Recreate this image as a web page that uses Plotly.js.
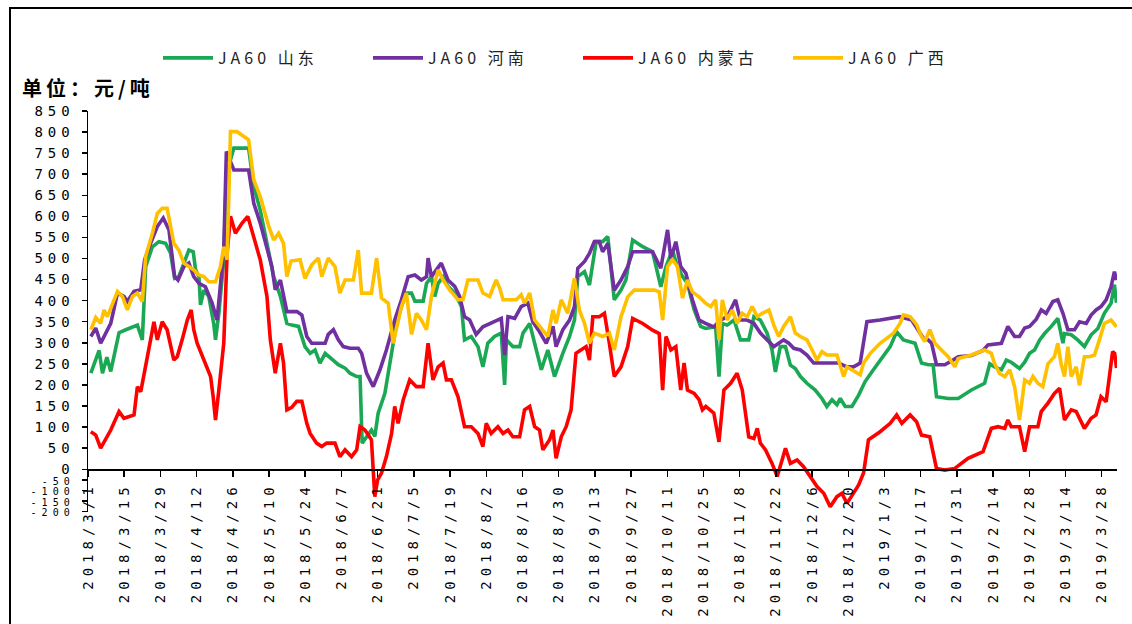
<!DOCTYPE html>
<html>
<head>
<meta charset="utf-8">
<script src="https://cdn.plot.ly/plotly-3.0.1.min.js"></script>
<style>
  html, body { margin:0; padding:0; background:#fff; }
  #wrap { position:relative; width:1132px; height:624px; overflow:hidden; }
  #chart { position:absolute; left:0; top:0; width:1132px; height:624px; }
  #frame { position:absolute; left:9px; top:7px; width:1121px; height:640px; border:2px solid #000; pointer-events:none; }
  .xtick text, .ytick text { letter-spacing: 5px; }
  .legendtext { letter-spacing: 4px; }
  .annotation-text { letter-spacing: 4px; }
</style>
</head>
<body>
<div id="wrap">
  <div id="chart"></div>
  <div id="frame"></div>
</div>
<script>
// Day offsets are counted from 2018-03-01.
const tickLabels = ["2018/3/1","2018/3/15","2018/3/29","2018/4/12","2018/4/26","2018/5/10","2018/5/24","2018/6/7","2018/6/21","2018/7/5","2018/7/19","2018/8/2","2018/8/16","2018/8/30","2018/9/13","2018/9/27","2018/10/11","2018/10/25","2018/11/8","2018/11/22","2018/12/6","2018/12/20","2019/1/3","2019/1/17","2019/1/31","2019/2/14","2019/2/28","2019/3/14","2019/3/28"];

// y-axis labels as printed on the picture (the negative labels sit closer together there)
const yTickVals = [850,800,750,700,650,600,550,500,450,400,350,300,250,200,150,100,50,0,-25,-50,-75,-100];
const yTickLabels = ["850","800","750","700","650","600","550","500","450","400","350","300","250","200","150","100","50","0","-50","-100","-150","-200"];

const seriesNames = ["JA60 山东","JA60 河南","JA60 内蒙古","JA60 广西"];
const seriesColors = ["#1BA855","#7030A0","#FF0000","#FFC000"];

const shandongDays = [1.1,4.3,5.6,7.3,8.8,12.0,14.6,16.5,19.1,21.0,22.3,24.9,27.4,30.0,31.9,33.5,35.1,37.1,39.0,40.7,41.6,42.9,43.5,44.8,46.7,48.6,49.3,50.6,52.5,53.5,56.4,62.1,64.1,66.6,69.2,71.8,74.4,76.9,78.8,81.4,83.9,85.9,87.8,89.7,91.7,94.2,96.8,99.4,101.3,103.9,105.2,106.0,107.7,109.6,110.9,112.2,114.8,117.4,119.3,121.2,123.1,125.1,126.4,129.6,130.9,132.8,134.1,135.4,137.3,139.2,141.8,144.4,145.6,148.2,150.8,152.7,154.6,157.2,159.8,161.1,161.8,164.3,166.9,168.2,170.8,172.7,175.3,177.8,180.4,183.6,186.2,188.1,189.4,192.0,193.9,196.5,199.0,201.0,203.5,206.1,208.0,210.6,214.5,218.3,221.5,223.5,226.0,227.9,229.9,231.8,234.4,236.9,238.8,242.7,244.0,245.3,247.2,249.8,252.3,255.5,257.5,260.0,262.6,264.5,265.8,267.7,269.7,271.6,273.5,275.5,278.0,281.2,283.8,285.7,287.7,289.6,290.9,292.8,295.4,298.0,300.5,303.7,307.0,310.2,312.7,315.3,319.8,322.3,324.9,326.8,328.1,332.6,336.5,341.6,346.7,348.7,350.6,353.2,355.1,357.0,360.2,362.2,364.1,366.0,368.0,369.9,372.5,375.0,377.0,377.6,380.2,382.7,385.3,387.9,390.5,393.0,395.6,396.9,397.7];
const shandongVals = [228,282,228,266,232,324,331,335,342,307,481,528,540,536,513,453,457,489,520,516,473,457,390,425,410,346,307,370,497,700,762,762,671,615,536,457,410,346,342,339,291,275,283,252,275,263,248,240,228,220,220,62,78,93,78,133,180,275,346,386,418,418,399,399,441,457,410,441,457,434,418,386,307,315,291,243,299,315,323,200,307,291,291,323,346,299,236,283,220,275,315,354,457,469,437,540,540,552,402,425,449,544,528,516,433,481,520,481,457,441,378,339,334,338,220,346,342,354,307,307,362,354,323,283,231,291,291,247,239,220,204,188,168,149,165,153,168,149,149,176,208,236,263,291,326,307,299,252,248,248,172,168,168,188,204,250,243,236,259,254,239,254,275,283,307,322,339,358,299,322,319,307,291,319,334,370,394,438,395];

const henanDays = [1.1,3.0,4.9,6.9,8.8,11.4,13.9,15.2,17.8,20.4,21.9,24.2,26.8,29.1,31.3,33.5,34.8,37.1,39.0,40.9,42.9,45.4,48.0,49.9,52.5,53.5,56.4,62.1,64.1,66.6,69.2,71.1,72.4,74.4,76.9,80.8,82.7,84.6,86.5,91.7,92.9,94.9,96.8,98.7,101.3,104.5,105.8,107.7,110.3,112.9,115.4,118.6,121.2,123.8,126.4,128.9,130.9,131.5,132.8,135.4,136.6,139.2,141.8,143.7,145.6,147.6,150.1,152.7,155.3,157.8,159.8,161.1,162.4,165.0,167.5,170.1,172.0,174.6,177.2,179.8,181.0,183.6,186.2,188.1,189.4,192.0,193.9,195.8,197.7,199.0,201.0,203.5,206.1,208.7,210.6,214.5,218.3,221.5,224.1,225.4,227.3,229.2,231.2,233.7,236.3,238.8,242.0,244.6,247.2,250.4,252.3,254.9,257.5,260.0,262.6,265.2,267.1,269.0,271.0,272.9,275.5,278.0,280.6,285.7,290.2,293.5,296.0,298.6,301.2,306.3,314.0,318.5,321.0,323.0,324.9,326.2,328.1,331.3,334.5,336.5,341.6,346.1,348.0,351.9,353.2,355.7,358.3,360.2,362.2,364.1,366.7,368.6,370.5,373.1,375.0,377.0,378.9,381.5,383.4,386.0,387.9,389.8,391.7,393.7,395.6,396.9,397.7];
const henanVals = [315,335,299,323,346,418,410,398,422,426,497,536,576,596,568,457,449,481,489,457,441,433,394,354,521,754,710,710,631,584,521,481,426,449,374,374,366,315,299,299,320,331,307,291,287,287,275,228,196,236,283,354,402,457,461,449,457,501,457,481,489,449,434,410,362,354,320,338,346,354,358,271,362,358,386,394,350,326,299,339,291,331,354,386,477,493,512,540,540,516,536,425,449,481,516,516,516,477,568,500,540,481,465,402,354,346,338,354,362,402,354,354,346,323,307,291,299,307,299,287,283,271,252,252,252,243,243,252,350,354,362,354,331,311,307,299,248,248,259,267,270,282,295,299,299,339,315,315,335,339,356,378,370,398,402,370,331,331,350,346,366,378,386,402,433,469,449];

const neimengDays = [1.1,3.0,4.9,6.9,8.8,12.0,13.9,17.8,19.1,20.4,21.6,24.2,25.5,26.8,28.7,30.6,33.2,34.5,36.4,38.4,39.9,40.9,42.2,44.8,47.4,48.4,49.3,50.6,52.5,53.8,55.1,57.0,59.6,61.8,64.1,66.6,69.2,70.5,72.4,74.4,75.6,76.9,78.8,80.7,82.7,84.6,85.9,88.4,90.4,92.3,95.5,97.4,99.4,101.9,103.9,105.2,107.1,109.6,110.9,112.0,113.5,115.4,117.4,118.6,119.9,121.9,124.4,127.0,129.6,131.5,133.4,135.4,137.3,138.6,140.5,143.1,145.6,148.2,150.8,152.7,154.0,155.9,158.5,160.5,162.4,164.3,166.9,168.8,170.8,172.7,174.6,175.9,178.5,179.8,181.0,183.0,184.9,186.8,188.7,190.7,192.6,193.9,195.2,197.7,199.7,201.6,203.5,206.1,208.7,210.6,214.5,218.3,220.9,222.2,223.5,225.4,227.3,229.2,230.5,231.8,234.4,236.3,237.6,238.9,242.0,244.0,245.9,248.5,251.0,253.0,255.5,257.5,258.8,260.0,262.0,264.5,266.5,268.4,269.7,271.6,274.2,276.7,279.3,281.9,284.5,287.0,289.6,291.5,293.5,296.0,298.0,299.9,301.8,306.3,310.2,312.7,314.7,317.9,320.4,322.3,325.5,328.1,331.3,335.2,340.3,346.1,349.3,351.9,354.5,355.7,357.0,360.2,362.2,364.1,367.3,368.6,371.2,373.7,375.7,377.6,380.2,382.1,385.3,387.9,389.8,391.7,393.7,396.2,397.0,397.7];
const neimengVals = [89,81,50,74,93,137,121,129,196,184,220,307,350,307,350,331,259,267,307,354,378,331,299,259,220,172,117,188,299,513,600,560,584,600,552,497,410,307,228,299,252,141,147,161,161,109,85,62,54,62,62,30,46,30,46,101,93,70,-65,-25,-9,30,85,149,109,165,212,196,196,299,212,243,252,212,212,172,101,101,85,54,109,85,101,85,93,77,77,141,149,101,93,46,70,93,26,77,101,141,275,283,291,259,362,362,370,299,220,243,291,358,346,330,322,188,315,283,291,188,252,188,180,165,141,149,133,65,188,204,228,188,77,73,97,62,46,14,-17,22,50,14,22,6,-17,-41,-57,-89,-65,-57,-81,-57,-37,-9,70,89,109,129,109,129,113,81,77,2,-2,2,26,42,97,101,97,117,101,101,42,101,101,137,157,180,192,117,141,137,97,121,129,172,160,279,275,240];

const guangxiDays = [1.1,3.0,4.9,6.2,7.5,9.4,11.4,13.3,15.2,17.2,19.1,21.0,22.3,24.9,26.8,28.7,30.6,33.2,35.1,37.1,39.0,40.9,42.9,44.8,46.7,49.3,51.2,52.5,53.8,55.1,57.6,62.1,64.1,66.6,69.9,71.8,73.7,75.6,76.9,78.5,82.0,83.9,86.5,89.1,90.4,92.9,95.5,97.4,99.4,102.6,104.5,105.8,109.6,111.6,113.5,116.1,118.0,119.9,121.2,123.1,125.1,127.0,128.9,130.9,132.8,135.4,137.3,139.9,143.1,145.0,146.9,150.8,152.7,155.3,157.8,159.2,160.5,165.6,167.5,168.8,170.8,172.7,174.6,176.5,177.8,179.8,181.0,183.0,185.5,188.1,190.0,192.0,193.9,195.8,199.0,201.6,203.5,206.1,208.7,211.2,219.0,220.9,222.2,224.1,226.0,227.9,229.9,231.8,233.7,236.3,238.8,240.8,242.7,244.0,245.3,247.2,249.1,251.0,253.0,254.9,256.8,258.8,260.7,263.3,265.2,267.1,269.0,271.6,273.5,275.5,278.0,280.0,281.9,283.8,285.7,289.6,292.2,293.5,295.4,298.6,299.9,302.5,306.3,311.5,314.0,315.3,317.9,320.4,322.3,323.6,325.5,327.5,330.0,332.6,335.2,336.5,341.6,346.7,349.3,350.6,352.5,354.5,356.4,358.3,360.2,362.2,364.1,365.4,367.3,369.2,371.2,373.7,375.0,376.3,377.6,378.9,380.2,382.1,383.4,385.3,387.2,389.2,391.1,393.0,395.6,397.7];
const guangxiVals = [331,360,346,378,362,394,422,410,378,410,418,398,505,560,607,619,619,536,520,489,481,473,461,457,445,445,481,528,497,801,801,782,687,647,576,544,560,536,457,494,497,453,485,501,457,501,481,418,449,449,520,418,418,501,406,394,299,354,386,418,320,370,354,331,410,473,449,425,402,402,449,449,418,410,449,430,402,402,414,394,418,354,339,323,315,378,346,402,370,453,378,346,299,323,315,323,283,362,409,425,425,421,354,481,497,481,406,449,421,409,394,386,402,307,402,354,378,346,370,362,386,362,370,378,342,315,339,362,323,315,307,283,259,279,271,271,220,243,236,224,252,275,299,323,346,366,362,343,315,303,331,299,283,267,243,263,271,283,275,250,227,220,236,196,117,212,204,220,204,196,250,267,299,250,220,291,220,243,199,267,267,271,307,346,354,338];

const BASE = Date.UTC(2018, 2, 1);
function toDate(d) {
  return new Date(BASE + d * 86400000).toISOString().slice(0, 19).replace('T', ' ');
}
const tickVals = tickLabels.map(s => s.replace(/\//g, '-'));
// the tightly packed negative labels are drawn smaller so that they do not collide
const yTickText = yTickLabels.map((t, i) => yTickVals[i] < 0 ? '<span style="font-size:10px">' + t + '</span>' : t);

const allDays = [shandongDays, henanDays, neimengDays, guangxiDays];
const allVals = [shandongVals, henanVals, neimengVals, guangxiVals];

const traces = seriesNames.map((name, i) => ({
  type: 'scatter',
  mode: 'lines',
  name: name,
  x: allDays[i].map(toDate),
  y: allVals[i],
  line: { color: seriesColors[i], width: 3.6 },
  hoverinfo: 'x+y+name'
}));

const plotL = 88, plotR = 1117, plotT = 111, plotB = 512;
const pw = plotR - plotL, ph = plotB - plotT;
const px = X => (X - plotL) / pw;
const py = Y => (plotB - Y) / ph;
const yMin = -101.4, yMax = 850;

const tickFont = { family: 'DejaVu Sans Mono, monospace', size: 14, color: '#000' };

const layout = {
  width: 1132, height: 624,
  margin: { l: plotL, r: 1132 - plotR, t: plotT, b: 624 - plotB, pad: 0 },
  paper_bgcolor: '#fff', plot_bgcolor: '#fff',
  showlegend: true,
  legend: {
    orientation: 'h',
    x: px(158), y: py(58), xanchor: 'left', yanchor: 'middle',
    font: { family: 'Noto Sans CJK SC', size: 16, color: '#222' },
    itemwidth: 50,
    entrywidth: 145, entrywidthmode: 'pixels',
    bgcolor: 'rgba(0,0,0,0)', borderwidth: 0,
    traceorder: 'normal'
  },
  xaxis: {
    type: 'date',
    range: [toDate(0), toDate(397.9)],
    anchor: 'free', position: (0 - yMin) / (yMax - yMin),
    showline: true, linecolor: '#000', linewidth: 1.5,
    ticks: 'outside', ticklen: 6, tickwidth: 1.5, tickcolor: '#000',
    tickmode: 'array', tickvals: tickVals, ticktext: tickLabels,
    tickangle: -90, tickfont: tickFont,
    showgrid: false, zeroline: false, fixedrange: true
  },
  yaxis: {
    range: [yMin, yMax],
    tickmode: 'array', tickvals: yTickVals, ticktext: yTickText,
    showline: true, linecolor: '#000', linewidth: 1.5,
    ticks: 'outside', ticklen: 5, tickwidth: 1.5, tickcolor: '#000',
    ticklabelstandoff: 4,
    tickfont: tickFont,
    showgrid: false, zeroline: false, fixedrange: true
  },
  annotations: [{
    text: '<b>单位：元/吨</b>',
    xref: 'paper', yref: 'paper',
    x: px(20), y: py(88), xanchor: 'left', yanchor: 'middle',
    showarrow: false,
    font: { family: 'Noto Sans CJK SC', size: 20, color: '#000' }
  }]
};

Plotly.newPlot('chart', traces, layout, { displayModeBar: false, staticPlot: true });
</script>
</body>
</html>
